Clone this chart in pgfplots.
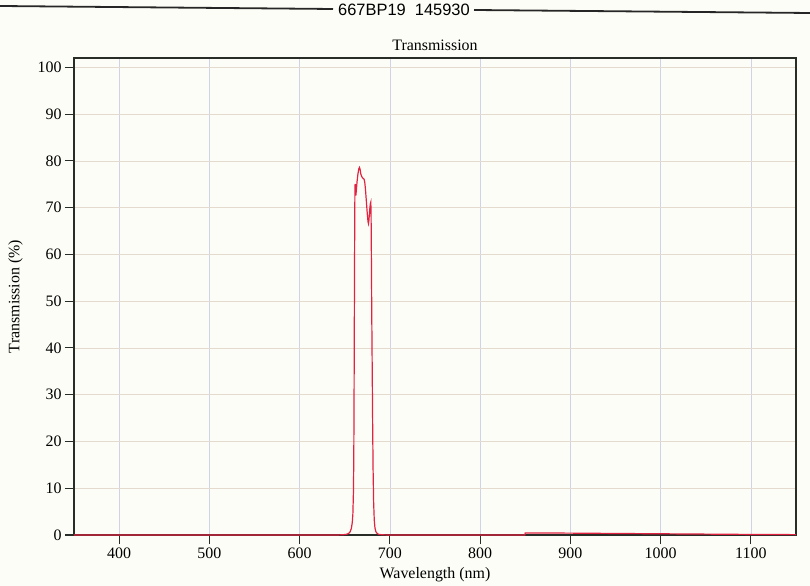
\documentclass[border=0pt]{standalone}
\usepackage{pgfplots}
\pgfplotsset{compat=1.18}
\usepackage{fontspec}
\setmainfont{Liberation Serif}
\newfontfamily\arial{Liberation Sans}
\definecolor{curve}{RGB}{225,35,65}
\definecolor{hgrid}{RGB}{228,218,205}
\definecolor{vgrid}{RGB}{208,210,232}
\definecolor{paper}{RGB}{253,253,247}
\definecolor{axisc}{RGB}{40,45,40}
\begin{document}
\begin{tikzpicture}
\fill[paper] (-74bp,-51bp) rectangle (736bp,535bp);
\begin{axis}[
  scale only axis, width=722bp, height=477bp,
  xmin=350, xmax=1150, ymin=0, ymax=102,
  xtick={400,500,...,1100}, ytick={0,10,...,100},
  tick align=outside, major tick length=9bp, tick pos=left,
  grid=major,
  x grid style={vgrid, line width=0.6bp},
  y grid style={hgrid, line width=0.6bp},
  axis line style={axisc, line width=1.1bp},
  tick style={axisc, line width=1.1bp},
  ticklabel style={font=\fontsize{16}{18}\selectfont},
  /pgf/number format/assume math mode=true,
  /pgf/number format/1000 sep={},
  label style={font=\fontsize{16}{18}\selectfont},
  title={Transmission},
  title style={at={(axis description cs:0.5,1.004)}, anchor=base, font=\fontsize{16}{18}\selectfont, inner sep=0pt},
  xlabel={Wavelength (nm)},
  xlabel style={at={(axis description cs:0.5,-0.0908)}, anchor=base, inner sep=0pt},
  ylabel={Transmission (\%)},
  ylabel style={at={(axis description cs:-0.081,0.5)}, anchor=center, inner sep=0pt},
  clip=false,
]
\addplot[curve, line width=1.2bp] coordinates {
(350,0) (640,0) (648,0.05) (652,0.15) (654.5,0.35) (656,0.7) (657.3,1.4) (658.3,2.6) (659,4.5) (659.6,9) (660,16) (660.3,28) (660.6,45) (660.9,60) (661.1,69) (661.3,74) (661.5,75.1) (661.9,73.6) (662.3,72.6) (662.8,73.6) (663.6,75.5) (664.6,77.2) (665.6,78.3) (666.3,78.6) (667,78.2) (667.8,77.2) (668.9,76.6) (670,76.3) (671.4,76.1) (672.2,75.4) (673,73.8) (674,71.2) (675,68.6) (675.8,67.0) (676.3,66.6) (676.8,67.3) (677.5,69.2) (678.3,70.8) (678.9,71.2) (679.2,68) (679.5,60) (679.9,48) (680.4,36) (680.9,24) (681.4,14) (682,7) (682.7,3.2) (683.5,1.5) (684.5,0.7) (686,0.3) (688,0.12) (692,0.04) (700,0) (849.5,0) (850,0.45) (900,0.4) (950,0.33) (1000,0.26) (1050,0.19) (1100,0.12) (1150,0.08)
};
\end{axis}
\draw[black!85, line width=1.8bp] (-74bp,529bp) -- (259bp,526bp);
\draw[black!85, line width=1.8bp] (400bp,525bp) -- (736bp,522bp);
\node[font=\arial\fontsize{16.5}{18}\selectfont, inner sep=0pt] at (330bp,525.5bp) {667BP19\ \ 145930};
\pgfresetboundingbox
\useasboundingbox (-74bp,-51bp) rectangle (736bp,535bp);
\end{tikzpicture}
\end{document}
